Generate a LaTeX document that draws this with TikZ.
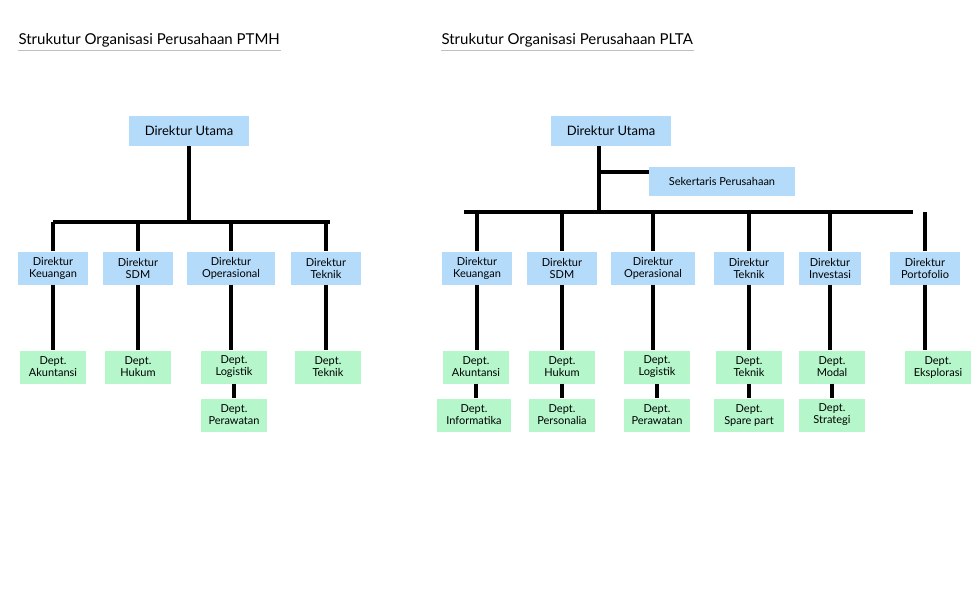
\documentclass[tikz,border=0pt]{standalone}
\usepackage{fontspec}
\setmainfont{Lato}
\usetikzlibrary{positioning}
\definecolor{dirblue}{HTML}{B5DBFA}
\definecolor{deptgreen}{HTML}{B5F7CB}
\tikzset{
        dir/.style = {fill=dirblue, minimum height=33pt, minimum width=70pt,
            inner sep=1pt, align=center, font=\fontsize{11}{12}\selectfont},
        top/.style = {fill=dirblue, minimum height=30pt, minimum width=120pt,
            font=\fontsize{13}{14}\selectfont},
        dept/.style = {fill=deptgreen, minimum height=33pt, minimum width=66pt,
            inner sep=1pt, align=center, font=\fontsize{11}{12}\selectfont},
        link/.style = {draw, line width=3.5pt},
        title/.style = {anchor=west, font=\fontsize{15}{16}\selectfont},
    }
\begin{document}
\begin{tikzpicture}[x=1pt,y=-1pt]
    \useasboundingbox[fill=white] (0,0) rectangle (978,613);
    % PTMH
    \node[title] (t1) at (15,40) {Strukutur Organisasi Perusahaan PTMH};
    \draw[gray!50] (t1.south west) ++(3,0) -- ([xshift=-2pt]t1.south east);
    \node[top] (du1) at (189,131) {Direktur Utama};
    \coordinate (b1l) at (53,222);
    \coordinate (b1r) at (330,222);
    \node[dir] (k1) at (53,268) {Direktur\\Keuangan};
    \node[dir] (s1) at (138,268) {Direktur\\SDM};
    \node[dir,minimum width=88pt] (o1) at (231,268) {Direktur\\Operasional};
    \node[dir] (t1d) at (326,268) {Direktur\\Teknik};
    \node[dept] (ak1) at (53,367) {Dept.\\Akuntansi};
    \node[dept] (hk1) at (138,367) {Dept.\\Hukum};
    \node[dept] (lg1) at (234,367) {Dept.\\Logistik};
    \node[dept] (tk1) at (328,367) {Dept.\\Teknik};
    \node[dept] (pw1) at (234,415) {Dept.\\Perawatan};
    \draw[link] (du1) -- (du1 |- b1l);
    \draw[link] (b1l) -- (b1r);
    \foreach \d/\p in {k1/ak1, s1/hk1, o1/lg1, t1d/tk1} {
        \draw[link] (\d |- b1l) -- (\d.north);
        \draw[link] (\d.south) -- (\d.south |- \p.north);
    }
    \draw[link] (lg1) -- (pw1);
    % PLTA
    \node[title] (t2) at (438,40) {Strukutur Organisasi Perusahaan PLTA};
    \draw[gray!50] (t2.south west) ++(3,0) -- ([xshift=-2pt]t2.south east);
    \node[top] (du2) at (611,131) {Direktur Utama};
    \node[dir,minimum width=146pt,minimum height=29pt] (sk2) at (722,181) {Sekertaris Perusahaan};
    \coordinate (b2l) at (464,212);
    \coordinate (b2r) at (913,212);
    \node[dir] (k2) at (477,268) {Direktur\\Keuangan};
    \node[dir] (s2) at (562,268) {Direktur\\SDM};
    \node[dir,minimum width=84pt] (o2) at (653,268) {Direktur\\Operasional};
    \node[dir] (t2d) at (749,268) {Direktur\\Teknik};
    \node[dir,minimum width=62pt] (i2) at (830,268) {Direktur\\Investasi};
    \node[dir] (p2) at (925,268) {Direktur\\Portofolio};
    \node[dept] (ak2) at (476,367) {Dept.\\Akuntansi};
    \node[dept] (hk2) at (562,367) {Dept.\\Hukum};
    \node[dept] (lg2) at (657,367) {Dept.\\Logistik};
    \node[dept] (tk2) at (749,367) {Dept.\\Teknik};
    \node[dept] (md2) at (832,367) {Dept.\\Modal};
    \node[dept] (ek2) at (938,367) {Dept.\\Eksplorasi};
    \node[dept,minimum width=74pt] (in2) at (474,415) {Dept.\\Informatika};
    \node[dept] (ps2) at (562,415) {Dept.\\Personalia};
    \node[dept] (pw2) at (657,415) {Dept.\\Perawatan};
    \node[dept,minimum width=70pt] (sp2) at (749,415) {Dept.\\Spare part};
    \node[dept] (st2) at (832,415) {Dept.\\Strategi};
    \draw[link] (du2.south -| 599,0) -- (599,212);
    \draw[link] (599,172) -- (sk2.west |- 0,172);
    \draw[link] (b2l) -- (b2r);
    \foreach \d/\p in {k2/ak2, s2/hk2, o2/lg2, t2d/tk2, i2/md2, p2/ek2} {
        \draw[link] (\d |- b2l) -- (\d.north);
        \draw[link] (\d.south) -- (\d.south |- \p.north);
    }
    \foreach \a/\b in {ak2/in2, hk2/ps2, lg2/pw2, tk2/sp2, md2/st2}
        \draw[link] (\a) -- (\a |- \b.north);
\end{tikzpicture}
\end{document}
